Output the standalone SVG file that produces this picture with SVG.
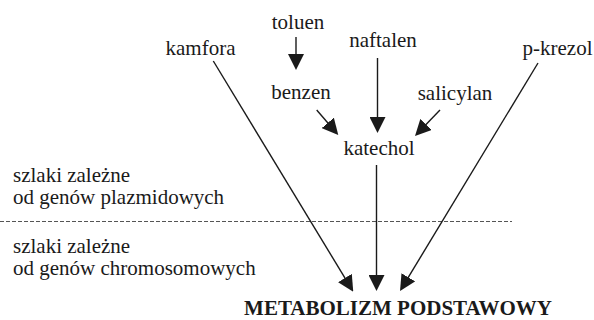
<svg xmlns="http://www.w3.org/2000/svg" width="594" height="320" viewBox="0 0 594 320">
  <style>
    .c { text-anchor: middle; }
    .arrow { stroke: #1a1a1a; stroke-width: 1.4; fill: none; marker-end: url(#head); }
    .divider { stroke: #555; stroke-width: 1; stroke-dasharray: 4 2; fill: none; }
  </style>
  <defs>
    <marker id="head" markerUnits="userSpaceOnUse" markerWidth="16" markerHeight="16" refX="13" refY="8" orient="auto">
      <path d="M0,0 L16,8 L0,16 Z" fill="#1a1a1a"/>
    </marker>
  </defs>
  <rect width="594" height="320" fill="#fff"/>

  <g font-family="Liberation Serif, Times New Roman, serif" font-size="21" fill="#1a1a1a">
    <!-- zone labels and divider -->
    <g id="zones">
      <line class="divider" x1="0" y1="221.5" x2="512" y2="221.5"/>
      <text x="13" y="182">szlaki zależne</text>
      <text x="13" y="204">od genów plazmidowych</text>
      <text x="13" y="253">szlaki zależne</text>
      <text x="13" y="275">od genów chromosomowych</text>
    </g>

    <!-- substrates -->
    <g id="toluen"><text class="c" x="298" y="29">toluen</text></g>
    <g id="kamfora"><text class="c" x="200.5" y="55">kamfora</text></g>
    <g id="naftalen"><text class="c" x="383" y="47">naftalen</text></g>
    <g id="benzen"><text class="c" x="301" y="99">benzen</text></g>
    <g id="salicylan"><text class="c" x="455" y="100">salicylan</text></g>
    <g id="katechol"><text class="c" x="379" y="155">katechol</text></g>
    <g id="p-krezol"><text class="c" x="557.5" y="55">p-krezol</text></g>
    <g id="metabolizm"><text class="c" x="398" y="315" font-weight="bold">METABOLIZM PODSTAWOWY</text></g>
  </g>

  <!-- pathways -->
  <g id="connectors">
    <line class="arrow" x1="296" y1="37" x2="296" y2="67"/>
    <line class="arrow" x1="377.5" y1="58" x2="377.5" y2="130"/>
    <line class="arrow" x1="316.7" y1="110" x2="336.3" y2="132.7"/>
    <line class="arrow" x1="440" y1="110" x2="417.1" y2="133.8"/>
    <line class="arrow" x1="376.5" y1="165" x2="376.5" y2="288"/>
    <line class="arrow" x1="213.3" y1="61" x2="351.7" y2="289.1"/>
    <line class="arrow" x1="538" y1="63" x2="401.6" y2="288.4"/>
  </g>
</svg>
